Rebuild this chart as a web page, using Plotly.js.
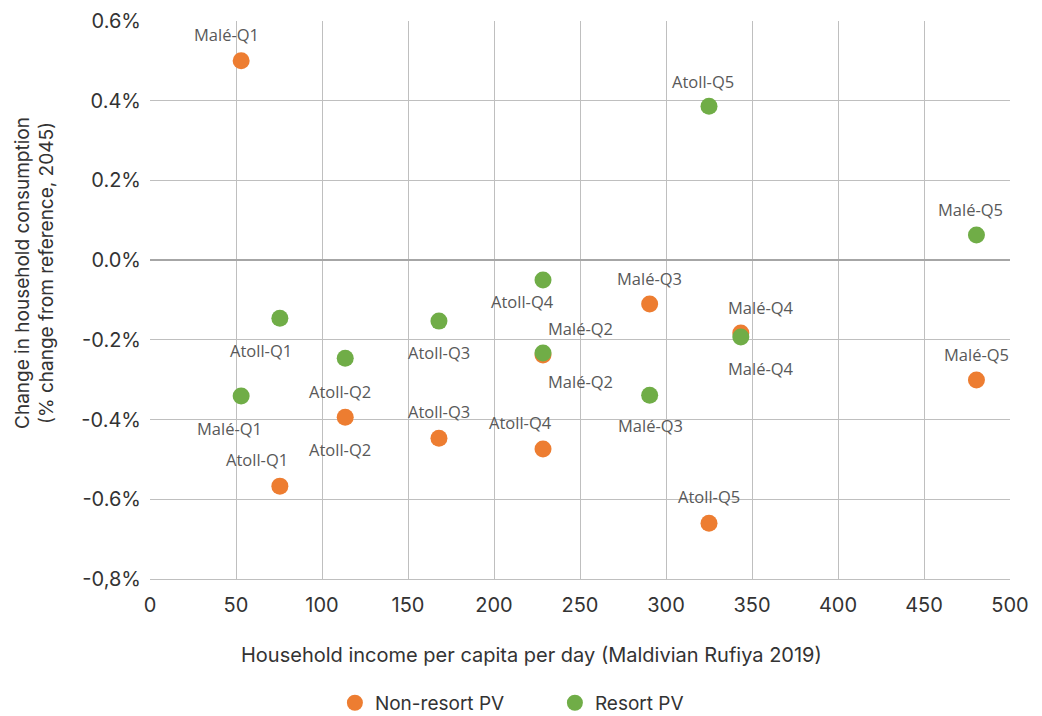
<!DOCTYPE html>
<html>
<head>
<meta charset="utf-8">
<script src="https://cdn.plot.ly/plotly-3.0.1.min.js"></script>
<style>
  body { margin: 0; background: #fff; }
  #plot { width: 1042px; height: 716px; }
</style>
</head>
<body>
<div id="plot"></div>
<script>
// household groups (same order for both series)
const groups = ["Malé-Q1", "Atoll-Q1", "Atoll-Q2", "Atoll-Q3", "Atoll-Q4",
                "Malé-Q2", "Malé-Q3", "Atoll-Q5", "Malé-Q4", "Malé-Q5"];

// income per capita per day (MVR 2019)
const income = [53, 75.5, 113.5, 168, 228.5, 228.5, 290.5, 325, 343.5, 480.5];

// change in consumption, % vs reference 2045
const nonResort = [0.50, -0.567, -0.394, -0.447, -0.474, -0.238, -0.110, -0.660, -0.183, -0.301];
const resort    = [-0.341, -0.146, -0.246, -0.153, -0.050, -0.233, -0.339, 0.386, -0.193, 0.063];

const yTickVals = [0.6, 0.4, 0.2, 0, -0.2, -0.4, -0.6, -0.8];
const yTickText = ["0.6%", "0.4%", "0.2%", "0.0%", "-0.2%", "-0.4%", "-0.6%", "-0,8%"];

// label offsets in px [dx, dy] (dy positive = down)
const nonResortLabelPos = [[-15, -26], [-23, -27], [-5, 32], [0, -27], [-23, -27],
                           [37, 26], [0, -25], [0, -27], [20, -26], [0, -26]];
const resortLabelPos = [[-12, 32], [-19, 32], [-5, 33], [0, 31], [-21, 21],
                        [37, -25], [1, 30], [-6, -25], [20, 31], [-6, -26]];

const ORANGE = "#ED7D31";
const GREEN = "#70AD47";
const TXT = "#333333";
const FONT = "Inter, Liberation Sans, sans-serif";

const traces = [
  {
    type: "scatter", mode: "markers", name: "Non-resort PV",
    x: income, y: nonResort,
    marker: { color: ORANGE, size: 17 }
  },
  {
    type: "scatter", mode: "markers", name: "Resort PV",
    x: income, y: resort,
    marker: { color: GREEN, size: 17 }
  }
];

const annotations = [];
function addLabels(vals, pos) {
  vals.forEach((v, i) => {
    annotations.push({
      x: income[i], y: v, text: groups[i], showarrow: false,
      xshift: pos[i][0], yshift: -pos[i][1],
      font: { family: "Open Sans, sans-serif", size: 16.5, color: "#595959" }
    });
  });
}
addLabels(nonResort, nonResortLabelPos);
addLabels(resort, resortLabelPos);

// axis titles
annotations.push({
  xref: "paper", yref: "paper", x: 0.444, y: -0.136,
  xanchor: "center", yanchor: "middle", showarrow: false,
  text: "Household income per capita per day (Maldivian Rufiya 2019)",
  font: { family: FONT, size: 20, color: TXT }
});
annotations.push({
  xref: "paper", yref: "paper", x: -0.134, y: 0.548,
  xanchor: "center", yanchor: "middle", showarrow: false, textangle: -90,
  text: "Change in household consumption<br>(% change from reference, 2045)",
  font: { family: FONT, size: 19, color: TXT }
});

const layout = {
  width: 1042, height: 716,
  margin: { l: 150, r: 32, t: 21, b: 137, autoexpand: false },
  paper_bgcolor: "#fff", plot_bgcolor: "#fff",
  font: { family: FONT, color: TXT },
  showlegend: true,
  legend: {
    orientation: "h", x: 0.215, xanchor: "left", y: -0.222, yanchor: "middle",
    font: { size: 19, color: TXT }, entrywidth: 175, itemwidth: 30
  },
  xaxis: {
    range: [0, 500], dtick: 50, tick0: 0, automargin: false,
    showgrid: true, gridcolor: "#bfbfbf", gridwidth: 1,
    showline: true, linecolor: "#bfbfbf",
    zeroline: false, ticks: "", ticklabelstandoff: 8,
    tickfont: { size: 20, color: TXT }
  },
  yaxis: {
    range: [-0.8, 0.6], automargin: false,
    tickvals: yTickVals, ticktext: yTickText,
    showgrid: true, gridcolor: "#bfbfbf", gridwidth: 1,
    zeroline: true, zerolinecolor: "#a6a6a6", zerolinewidth: 2,
    showline: false, ticks: "", ticklabelstandoff: 8,
    tickfont: { size: 20, color: TXT }
  },
  annotations: annotations
};

Plotly.newPlot("plot", traces, layout, { displayModeBar: false });
</script>
</body>
</html>
